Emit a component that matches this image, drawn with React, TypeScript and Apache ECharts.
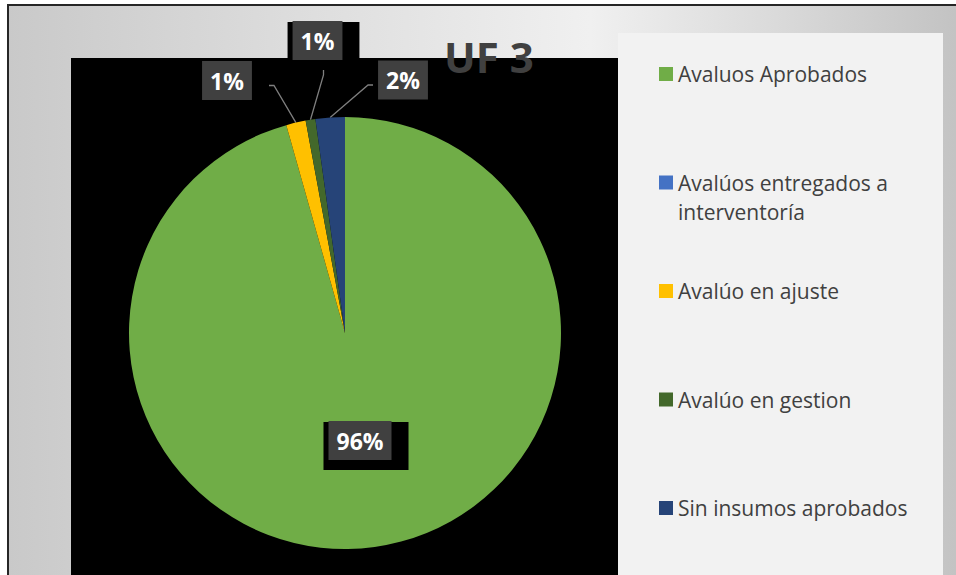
import React, { useEffect, useRef } from "react";
import * as echarts from "echarts";

// ---- data ----
const categories = [
  "Avaluos Aprobados",
  "Avalúos entregados a interventoría",
  "Avalúo en ajuste",
  "Avalúo en gestion",
  "Sin insumos aprobados",
];
const values = [131, 0, 2, 1, 3];
const colors = ["#70ad47", "#4472c4", "#ffc000", "#43682b", "#264478"];
const legendLabels = [
  "Avaluos Aprobados",
  "Avalúos entregados a\ninterventoría",
  "Avalúo en ajuste",
  "Avalúo en gestion",
  "Sin insumos aprobados",
];
const titleText = "UF 3";

// ---- layout (label box centres, by category) ----
const labelCentres: Record<string, [number, number]> = {
  "Avaluos Aprobados": [366, 446],
  "Avalúo en ajuste": [233, 86],
  "Avalúo en gestion": [323.5, 46],
  "Sin insumos aprobados": [409, 85.5],
};

const FONT = "'Open Sans', 'DejaVu Sans', sans-serif";
const LH = 29;

export default function App() {
  const ref = useRef<HTMLDivElement>(null);
  useEffect(() => {
    if (!ref.current) return;
    const chart = echarts.init(ref.current, undefined, { renderer: "svg" });
    const maxVal = Math.max(...values);
    const total = values.reduce((a, b) => a + b, 0);
    chart.setOption({
      animation: false,
      graphic: [
        {
          type: "rect",
          z: 0,
          shape: { x: 8, y: 5, width: 970, height: 600 },
          style: {
            fill: {
              type: "linear",
              x: 0,
              y: 0,
              x2: 1,
              y2: 0,
              colorStops: [
                { offset: 0, color: "#c9c9c9" },
                { offset: 0.3, color: "#dddddd" },
                { offset: 0.6, color: "#f0f0f0" },
                { offset: 0.8, color: "#d9d9d9" },
                { offset: 1, color: "#c0c0c0" },
              ],
            },
            stroke: "#262626",
            lineWidth: 2,
          },
        },
        {
          type: "rect",
          z: 0,
          shape: { x: 618, y: 33, width: 325, height: 560 },
          style: { fill: "#f2f2f2" },
        },
        {
          type: "rect",
          z: 0,
          shape: { x: 71, y: 58, width: 547, height: 530 },
          style: { fill: "#000000" },
        },
        {
          type: "text",
          z: 1,
          x: 444,
          y: 56,
          style: {
            text: titleText,
            fill: "#404040",
            font: `bold 42px ${FONT}`,
            verticalAlign: "middle",
            align: "left",
          },
        },
      ],
      legend: {
        orient: "vertical",
        left: 654,
        top: 25.5,
        itemGap: 21.5,
        itemWidth: 14,
        itemHeight: 14,
        icon: "rect",
        selectedMode: false,
        formatter: (name: string) => {
          const label = legendLabels[categories.indexOf(name)];
          const lines = label.split("\n").length;
          // pad with empty lines so the first line sits level with the marker
          return "\n" + label + "\n".repeat(Math.max(0, 2 - lines));
        },
        textStyle: {
          fontFamily: FONT,
          fontSize: 21,
          color: "#404040",
          lineHeight: LH,
        },
        data: categories,
      },
      series: [
        {
          type: "pie",
          center: [345, 333],
          radius: 216,
          startAngle: 90,
          clockwise: true,
          avoidLabelOverlap: false,
          emphasis: { disabled: true },
          label: {
            show: true,
            backgroundColor: "#000000",
            padding: [6, 17, 17, 5],
            formatter: (p: any) => `{a|${Math.round((p.value / total) * 100)}%}`,
            rich: {
              a: {
                backgroundColor: "#404040",
                color: "#ffffff",
                fontWeight: "bold",
                fontSize: 23,
                fontFamily: FONT,
                lineHeight: 25,
                padding: [8, 8, 8, 8],
              },
            },
          },
          labelLine: {
            show: true,
            length: 10,
            length2: 5,
            lineStyle: { color: "#7f7f7f", width: 1.3 },
          },
          labelLayout: (params: any) => {
            const c = labelCentres[categories[params.dataIndex]];
            if (!c) return {};
            return { x: c[0], y: c[1], align: "center", verticalAlign: "middle" };
          },
          data: categories.map((name, i) => ({
            name,
            value: values[i],
            itemStyle: { color: colors[i] },
            label: {
              show: values[i] > 0,
              position: values[i] === maxVal ? "inside" : "outside",
            },
            labelLine: { show: values[i] > 0 && values[i] !== maxVal },
          })),
        },
      ],
    });
    return () => chart.dispose();
  }, []);
  return (
    <div
      ref={ref}
      style={{ position: "absolute", left: 0, top: 0, width: 956, height: 575 }}
    />
  );
}
